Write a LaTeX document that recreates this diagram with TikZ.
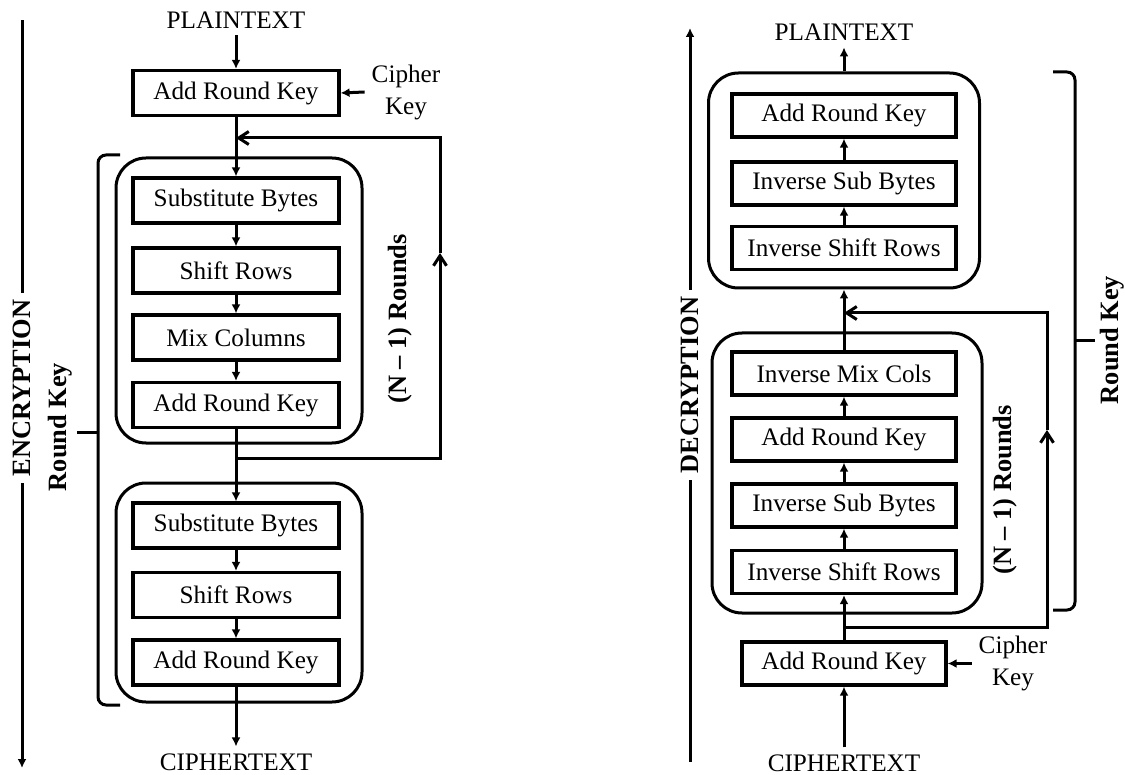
\documentclass[tikz,border=0pt]{standalone}
\usepackage{fontspec}
\setmainfont{Liberation Serif}
\usepackage{tikz}
\usetikzlibrary{arrows.meta,positioning}

\begin{document}
\begin{tikzpicture}[x=0.5pt,y=-0.5pt,
	txt/.style={font=\fontsize{12.6}{16}\selectfont, align=center},
	blk/.style={txt, draw, line width=1.6pt, inner sep=0pt, minimum width=103pt, minimum height=22.5pt},
	rblk/.style={blk, minimum width=112pt, minimum height=21.5pt},
	grp/.style={draw, line width=1.5pt, rounded corners=15pt, inner sep=0pt},
	vlbl/.style={font=\bfseries\fontsize{13.2}{16}\selectfont, rotate=90},
	flow/.style={line width=1.5pt, -{Latex[length=4.5pt,width=4.5pt]}},
	barb/.style={line width=1.5pt, -{Straight Barb[length=5pt,width=6.5pt]}},
	brc/.style={line width=1.5pt, rounded corners=4pt}]
	\useasboundingbox (0,0) rectangle (1125,775);

	% encryption
	\node[grp, minimum width=123pt, minimum height=142.5pt] (rndE1) at (239,300.5) {};
	\node[grp, minimum width=123pt, minimum height=109.5pt] (rndE2) at (239,592.5) {};
	\node[txt] (ptE) at (236,20) {PLAINTEXT};
	\node[blk] (arkE0) at (236,93) {Add Round Key};
	\node[txt] (ckE) at (406,92) {Cipher\\Key};
	\node[blk] (sbE1) at (236,200.5) {Substitute Bytes};
	\node[blk] (srE1) at (236,270.5) {Shift Rows};
	\node[blk] (mcE1) at (236,337.5) {Mix Columns};
	\node[blk] (arkE1) at (236,405) {Add Round Key};
	\node[blk] (sbE2) at (236,525.5) {Substitute Bytes};
	\node[blk] (srE2) at (236,595) {Shift Rows};
	\node[blk] (arkE2) at (236,662.5) {Add Round Key};
	\node[txt] (ctE) at (236,762) {CIPHERTEXT};
	\node[vlbl] (nrE) at (400,319) {(N -- 1) Rounds};
	\node[vlbl] (rkE) at (60,427) {Round Key};
	\node[vlbl] (encE) at (22,388) {ENCRYPTION};
	\coordinate (fbE1) at (440,458);
	\coordinate (fbEm) at (440,253);
	\coordinate (fbE2) at (440,138);
	\coordinate (encTop) at (22,20);
	\coordinate (encBot) at (22,768);

	\draw [flow] (ptE) to (arkE0);
	\draw [flow] (ckE.west) to (arkE0.east);
	\draw [flow] (arkE0) to (sbE1);
	\draw [flow] (sbE1) to (srE1);
	\draw [flow] (srE1) to (mcE1);
	\draw [flow] (mcE1) to (arkE1);
	\draw [flow] (arkE1) to (sbE2);
	\draw [flow] (sbE2) to (srE2);
	\draw [flow] (srE2) to (arkE2);
	\draw [flow] (arkE2) to (ctE);
	\draw [barb] (arkE1.south |- fbE1) -- (fbE1) -- (fbEm);
	\draw [barb] (fbEm) -- (fbE2) -- (arkE0.south |- fbE2);
	\draw [brc] (120,155) -- (98,155) -- (98,705) -- (120,705);
	\draw [brc] (77,432) -- (98,432);
	\draw [line width=1.5pt] (encE.east) to (encTop);
	\draw [flow] (encE.west) to (encBot);

	% decryption
	\node[grp, minimum width=135.5pt, minimum height=107.5pt] (rndD1) at (844,180.5) {};
	\node[grp, minimum width=135pt, minimum height=140pt] (rndD0) at (847,473) {};
	\node[txt] (ptD) at (844,32) {PLAINTEXT};
	\node[rblk] (arkD2) at (844,115.5) {Add Round Key};
	\node[rblk] (isbD2) at (844,183.5) {Inverse Sub Bytes};
	\node[rblk] (isrD2) at (844,248) {Inverse Shift Rows};
	\node[rblk] (imcD1) at (844,373.5) {Inverse Mix Cols};
	\node[rblk] (arkD1) at (844,439.5) {Add Round Key};
	\node[rblk] (isbD1) at (844,505.5) {Inverse Sub Bytes};
	\node[rblk] (isrD1) at (844,572) {Inverse Shift Rows};
	\node[blk, minimum width=102pt, minimum height=21.5pt] (arkD0) at (844,663.5) {Add Round Key};
	\node[txt] (ckD) at (1013,663.5) {Cipher\\Key};
	\node[txt] (ctD) at (844,763) {CIPHERTEXT};
	\node[vlbl] (nrD) at (1005,490) {(N -- 1) Rounds};
	\node[vlbl] (rkD) at (1112,340) {Round Key};
	\node[vlbl] (decD) at (690,385) {DECRYPTION};
	\coordinate (fbD1) at (1047,627);
	\coordinate (fbDm) at (1047,430);
	\coordinate (fbD2) at (1047,313);
	\coordinate (decTop) at (690,28);
	\coordinate (decBot) at (690,762);

	\draw [flow] (ctD) to (arkD0);
	\draw [flow] (ckD.west) to (arkD0.east);
	\draw [flow] (arkD0) to (isrD1);
	\draw [flow] (isrD1) to (isbD1);
	\draw [flow] (isbD1) to (arkD1);
	\draw [flow] (arkD1) to (imcD1);
	\draw [flow] (imcD1.north) to (imcD1.north |- rndD1.south);
	\draw [flow] (isrD2) to (isbD2);
	\draw [flow] (isbD2) to (arkD2);
	\draw [flow] (arkD2.north |- rndD1.north) to (ptD);
	\draw [barb] (arkD0.north |- fbD1) -- (fbD1) -- (fbDm);
	\draw [barb] (fbDm) -- (fbD2) -- (imcD1.north |- fbD2);
	\draw [brc] (1053,72) -- (1075,72) -- (1075,610) -- (1053,610);
	\draw [brc] (1075,341) -- (1095,341);
	\draw [flow] (decD.east) to (decTop);
	\draw [line width=1.5pt] (decD.west) to (decBot);
\end{tikzpicture}
\end{document}
